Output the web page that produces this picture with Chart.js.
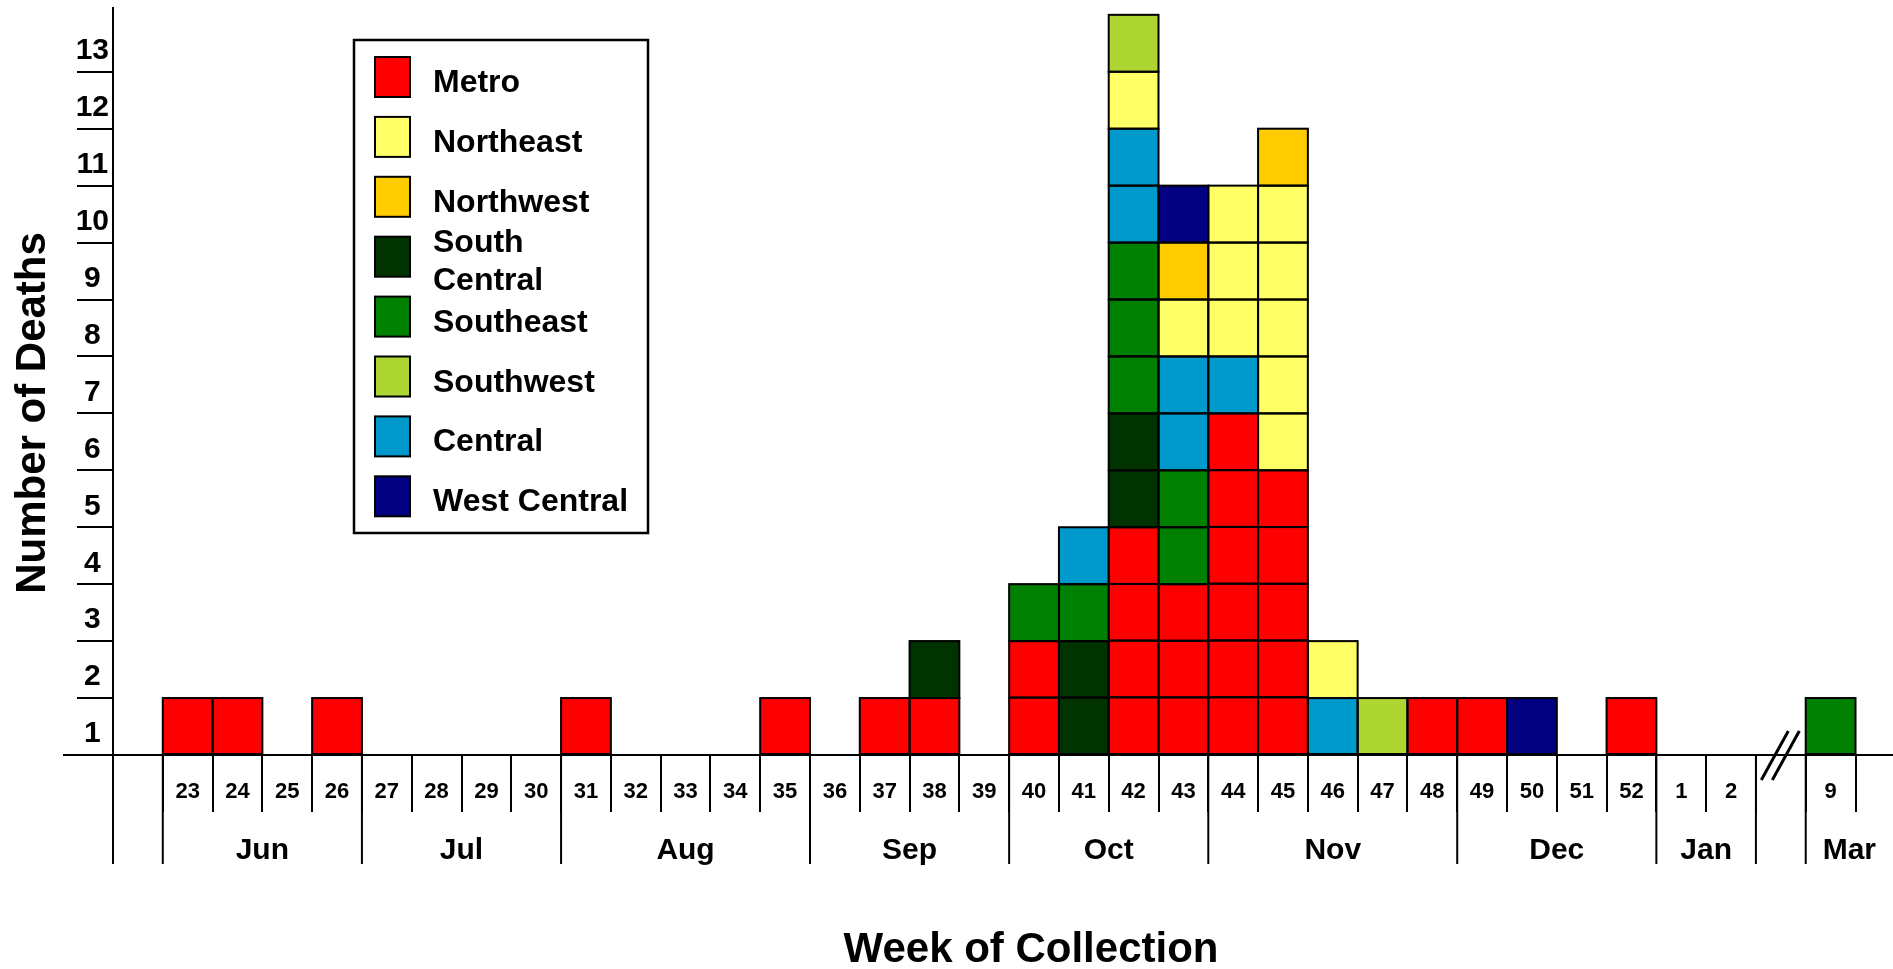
<!DOCTYPE html>
<html>
<head>
<meta charset="utf-8">
<title>Number of Deaths by Week of Collection</title>
<script src="https://cdn.jsdelivr.net/npm/chart.js@4/dist/chart.umd.min.js"></script>
<style>
  html, body { margin: 0; padding: 0; background: #fff; overflow: hidden; }
  #wrap { width: 1893px; height: 969px; position: relative; }
</style>
</head>
<body>
<div id="wrap"><canvas id="deaths"></canvas></div>
<script>
// week columns: first one is blank, the blank before '9' is the axis break
const weekLabels = ['',
  '23', '24', '25', '26', '27', '28', '29', '30', '31', '32', '33', '34', '35',
  '36', '37', '38', '39', '40', '41', '42', '43', '44', '45', '46', '47', '48',
  '49', '50', '51', '52', '1', '2', '', '9'];

const monthLabels = ['', 'Jun', 'Jul', 'Aug', 'Sep', 'Oct', 'Nov', 'Dec', 'Jan', '', 'Mar'];
const monthColumns = [1, 4, 4, 5, 4, 4, 5, 4, 2, 1, 1];

// deaths per week and region (stacking order, bottom to top)
//                   23-26      27-30      31-35        36-39      40-43      44-48        49-52      1  2  -  9
const metro        = [0, 1, 1, 0, 1, 0, 0, 0, 0, 1, 0, 0, 0, 1, 0, 1, 1, 0, 2, 0, 4, 3, 6, 5, 0, 0, 1, 1, 0, 0, 1, 0, 0, 0, 0];
const southCentral = [0, 0, 0, 0, 0, 0, 0, 0, 0, 0, 0, 0, 0, 0, 0, 0, 1, 0, 0, 2, 2, 0, 0, 0, 0, 0, 0, 0, 0, 0, 0, 0, 0, 0, 0];
const southeast    = [0, 0, 0, 0, 0, 0, 0, 0, 0, 0, 0, 0, 0, 0, 0, 0, 0, 0, 1, 1, 3, 2, 0, 0, 0, 0, 0, 0, 0, 0, 0, 0, 0, 0, 1];
const central      = [0, 0, 0, 0, 0, 0, 0, 0, 0, 0, 0, 0, 0, 0, 0, 0, 0, 0, 0, 1, 2, 2, 1, 0, 1, 0, 0, 0, 0, 0, 0, 0, 0, 0, 0];
const northeast    = [0, 0, 0, 0, 0, 0, 0, 0, 0, 0, 0, 0, 0, 0, 0, 0, 0, 0, 0, 0, 1, 1, 3, 5, 1, 0, 0, 0, 0, 0, 0, 0, 0, 0, 0];
const northwest    = [0, 0, 0, 0, 0, 0, 0, 0, 0, 0, 0, 0, 0, 0, 0, 0, 0, 0, 0, 0, 0, 1, 0, 1, 0, 0, 0, 0, 0, 0, 0, 0, 0, 0, 0];
const southwest    = [0, 0, 0, 0, 0, 0, 0, 0, 0, 0, 0, 0, 0, 0, 0, 0, 0, 0, 0, 0, 1, 0, 0, 0, 0, 1, 0, 0, 0, 0, 0, 0, 0, 0, 0];
const westCentral  = [0, 0, 0, 0, 0, 0, 0, 0, 0, 0, 0, 0, 0, 0, 0, 0, 0, 0, 0, 0, 0, 1, 0, 0, 0, 0, 0, 0, 1, 0, 0, 0, 0, 0, 0];

const regions = [
  { label: 'Metro',         data: metro,        color: '#ff0000' },
  { label: 'South Central', data: southCentral, color: '#003300' },
  { label: 'Southeast',     data: southeast,    color: '#008000' },
  { label: 'Central',       data: central,      color: '#0099cc' },
  { label: 'Northeast',     data: northeast,    color: '#ffff66' },
  { label: 'Northwest',     data: northwest,    color: '#ffcc00' },
  { label: 'Southwest',     data: southwest,    color: '#add633' },
  { label: 'West Central',  data: westCentral,  color: '#000080' }
];
const legendOrder = ['Metro', 'Northeast', 'Northwest', 'South Central', 'Southeast', 'Southwest', 'Central', 'West Central'];

const FONT = '"Liberation Sans", Arial, Helvetica, sans-serif';
Chart.defaults.font.family = FONT;
Chart.defaults.color = '#000';

// black outline around every single death (one cell per death)
const cellOutline = {
  id: 'cellOutline',
  afterDatasetsDraw(chart) {
    const ctx = chart.ctx;
    ctx.save();
    ctx.strokeStyle = '#000';
    ctx.lineWidth = 2;
    chart.data.datasets.forEach((ds, di) => {
      chart.getDatasetMeta(di).data.forEach((bar, i) => {
        const n = ds.data[i];
        if (!n) return;
        const p = bar.getProps(['x', 'y', 'base', 'width'], true);
        const h = (p.base - p.y) / n;
        for (let k = 0; k < n; k++) {
          ctx.strokeRect(p.x - p.width / 2, p.base - (k + 1) * h, p.width, h);
        }
      });
    });
    ctx.restore();
  }
};

// month row, axis break, axis titles and the boxed legend
const decorations = {
  id: 'decorations',
  afterDraw(chart) {
    const ctx = chart.ctx;
    const xs = chart.scales.x;
    const ys = chart.scales.y;
    const base = ys.getPixelForValue(0);
    const half = (xs.getPixelForValue(1) - xs.getPixelForValue(0)) / 2;
    const edge = b => xs.getPixelForValue(b) - half;
    const monthDepth = 109;

    ctx.save();
    ctx.strokeStyle = '#000';
    ctx.fillStyle = '#000';
    ctx.lineWidth = 2;

    // baseline, running out to the page edge
    ctx.beginPath();
    ctx.moveTo(63, base);
    ctx.lineTo(chart.width, base);
    ctx.stroke();

    // long month separators + month names
    ctx.font = 'bold 30px ' + FONT;
    ctx.textAlign = 'center';
    ctx.textBaseline = 'middle';
    let b = 0;
    monthColumns.forEach((n, i) => {
      const x0 = edge(b);
      ctx.beginPath();
      ctx.moveTo(x0, base);
      ctx.lineTo(x0, base + monthDepth);
      ctx.stroke();
      const x1 = i === monthColumns.length - 1 ? chart.width : edge(b + n);
      if (monthLabels[i]) ctx.fillText(monthLabels[i], (x0 + x1) / 2, base + 96);
      b += n;
    });

    // axis break marks
    const gap = weekLabels.lastIndexOf('');
    const gx = xs.getPixelForValue(gap);
    ctx.lineWidth = 3;
    [-6, 5].forEach(dx => {
      ctx.beginPath();
      ctx.moveTo(gx + dx - 13.5, base + 25);
      ctx.lineTo(gx + dx + 13.5, base - 24);
      ctx.stroke();
    });

    // axis titles
    ctx.font = 'bold 42px ' + FONT;
    ctx.fillText('Week of Collection', 1031, 950);
    ctx.save();
    ctx.translate(33, 413);
    ctx.rotate(-Math.PI / 2);
    ctx.fillText('Number of Deaths', 0, 0);
    ctx.restore();

    // legend box
    ctx.lineWidth = 2.5;
    ctx.strokeRect(354, 40, 294, 493);
    ctx.font = 'bold 32px ' + FONT;
    ctx.textAlign = 'left';
    ctx.textBaseline = 'alphabetic';
    legendOrder.forEach((name, i) => {
      const ds = chart.data.datasets.find(d => d.label === name);
      const top = 57 + i * 59.9;
      ctx.fillStyle = ds.backgroundColor;
      ctx.fillRect(375, top, 35, 40);
      ctx.lineWidth = 2;
      ctx.strokeRect(375, top, 35, 40);
      ctx.fillStyle = '#000';
      const words = name === 'South Central' ? ['South', 'Central'] : [name];
      if (words.length === 2) {
        ctx.fillText(words[0], 433, top + 15);
        ctx.fillText(words[1], 433, top + 53);
      } else {
        ctx.fillText(name, 433, top + 35);
      }
    });
    ctx.restore();
  }
};

new Chart(document.getElementById('deaths'), {
  type: 'bar',
  data: {
    labels: weekLabels,
    datasets: regions.map(r => ({
      label: r.label,
      data: r.data,
      backgroundColor: r.color,
      borderWidth: 0,
      barPercentage: 1,
      categoryPercentage: 1
    }))
  },
  options: {
    responsive: true,
    maintainAspectRatio: false,
    animation: false,
    layout: { padding: { top: 8, right: 37.5, bottom: 0, left: 0 } },
    plugins: {
      legend: { display: false },
      tooltip: { enabled: false }
    },
    scales: {
      x: {
        stacked: true,
        afterFit: s => { s.height = 214; },
        border: { color: '#000', width: 2 },
        grid: { drawOnChartArea: false, offset: true, tickLength: 57, lineWidth: 2, color: '#000' },
        ticks: {
          autoSkip: false, maxRotation: 0, padding: -33,
          font: { size: 22, weight: 'bold' }
        }
      },
      y: {
        stacked: true,
        min: 0,
        max: 13.12,
        afterFit: s => { s.width = 113; },
        border: { color: '#000', width: 2 },
        grid: {
          drawOnChartArea: false, tickLength: 36, lineWidth: 2,
          color: c => (c.tick && c.tick.value >= 13) ? 'rgba(0,0,0,0)' : '#000'
        },
        ticks: {
          stepSize: 1, includeBounds: false, labelOffset: 36, padding: -32,
          crossAlign: 'center',
          font: { size: 30, weight: 'bold' },
          callback: v => (v === 0 ? '' : v)
        }
      }
    }
  },
  plugins: [cellOutline, decorations]
});
</script>
</body>
</html>
